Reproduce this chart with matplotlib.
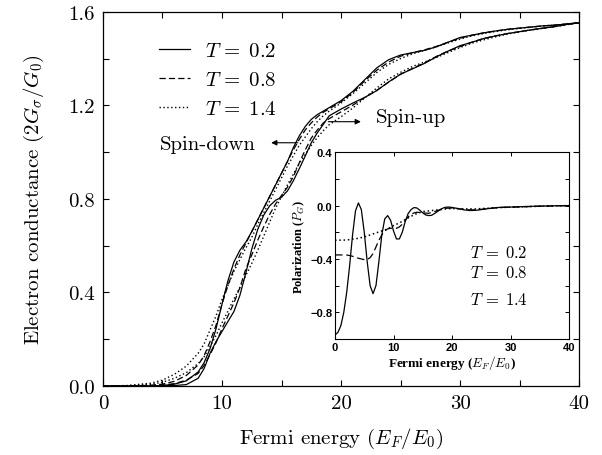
import matplotlib
matplotlib.use('Agg')
import matplotlib.pyplot as plt

plt.rcParams['font.family'] = 'serif'
plt.rcParams['font.serif'] = ['cmr10', 'DejaVu Serif']
plt.rcParams['mathtext.fontset'] = 'cm'
plt.rcParams['axes.unicode_minus'] = False

# Main panel: conductance vs Fermi energy
energy = [0, 2, 4, 5, 6, 7, 8, 8.5, 9, 9.5, 10, 10.5, 11, 11.5, 12, 12.5, 13, 13.5, 14, 14.5,
          15, 15.5, 16, 16.5, 17, 17.5, 18, 18.5, 19, 20, 21, 22, 23, 24, 25, 26, 27, 28, 29, 30,
          31, 32, 33, 34, 35, 36, 37, 38, 39, 40]

down_t02 = [0, 0, 0, 0.002, 0.008, 0.022, 0.06, 0.1, 0.16, 0.245, 0.35, 0.45, 0.53, 0.58, 0.615, 0.66,
            0.71, 0.76, 0.81, 0.86, 0.91, 0.96, 1.02, 1.07, 1.11, 1.14, 1.16, 1.175, 1.19, 1.22, 1.26,
            1.31, 1.36, 1.395, 1.415, 1.425, 1.435, 1.45, 1.47, 1.49, 1.50, 1.51, 1.518, 1.525, 1.53,
            1.535, 1.54, 1.543, 1.548, 1.553]
down_t08 = [0, 0, 0.003, 0.008, 0.02, 0.045, 0.09, 0.13, 0.19, 0.26, 0.35, 0.43, 0.5, 0.56, 0.61, 0.66,
            0.71, 0.76, 0.81, 0.86, 0.91, 0.96, 1.01, 1.055, 1.095, 1.125, 1.15, 1.17, 1.185, 1.215, 1.255,
            1.305, 1.35, 1.385, 1.41, 1.425, 1.437, 1.452, 1.47, 1.487, 1.50, 1.51, 1.518, 1.525, 1.53,
            1.535, 1.54, 1.543, 1.548, 1.553]
down_t14 = [0, 0.002, 0.012, 0.025, 0.05, 0.085, 0.14, 0.18, 0.24, 0.3, 0.37, 0.43, 0.49, 0.54, 0.59, 0.635,
            0.69, 0.74, 0.79, 0.84, 0.89, 0.94, 0.985, 1.03, 1.065, 1.1, 1.13, 1.155, 1.175, 1.21, 1.25,
            1.295, 1.34, 1.375, 1.40, 1.42, 1.435, 1.45, 1.467, 1.483, 1.497, 1.507, 1.516, 1.523, 1.529,
            1.534, 1.539, 1.543, 1.548, 1.553]

up_t02 = [0, 0, 0, 0.001, 0.002, 0.006, 0.033, 0.075, 0.14, 0.19, 0.233, 0.276, 0.318, 0.387, 0.483, 0.585,
          0.669, 0.73, 0.77, 0.794, 0.807, 0.834, 0.878, 0.93, 0.984, 1.04, 1.082, 1.118, 1.155, 1.184, 1.21,
          1.234, 1.263, 1.30, 1.333, 1.356, 1.379, 1.407, 1.432, 1.455, 1.47, 1.486, 1.497, 1.507, 1.515,
          1.523, 1.53, 1.537, 1.546, 1.553]
up_t08 = [0, 0, 0.002, 0.004, 0.01, 0.025, 0.054, 0.088, 0.135, 0.185, 0.245, 0.3, 0.355, 0.42, 0.5, 0.56,
          0.623, 0.68, 0.733, 0.778, 0.815, 0.85, 0.896, 0.955, 1.01, 1.06, 1.094, 1.124, 1.143, 1.172, 1.201,
          1.234, 1.264, 1.299, 1.333, 1.358, 1.381, 1.409, 1.432, 1.451, 1.47, 1.486, 1.497, 1.507, 1.515,
          1.523, 1.53, 1.537, 1.546, 1.553]
up_t14 = [0, 0.001, 0.007, 0.016, 0.033, 0.057, 0.096, 0.125, 0.17, 0.216, 0.27, 0.32, 0.372, 0.421, 0.472, 0.524,
          0.58, 0.64, 0.70, 0.76, 0.81, 0.86, 0.906, 0.953, 0.99, 1.029, 1.062, 1.091, 1.117, 1.151, 1.189,
          1.232, 1.274, 1.313, 1.341, 1.366, 1.385, 1.404, 1.426, 1.447, 1.466, 1.48, 1.493, 1.505, 1.514,
          1.522, 1.53, 1.537, 1.545, 1.553]

# Inset: polarization
e_solid = [0, 0.5, 1, 1.5, 2, 2.5, 3, 3.5, 4, 4.5, 5, 5.5, 6, 6.5, 7, 7.5, 8, 8.5, 9, 9.5, 10, 10.5,
           11, 11.5, 12, 12.5, 13, 13.5, 14, 14.5, 15, 15.5, 16, 16.5, 17, 17.5, 18, 18.5, 19, 19.5,
           20, 21, 22, 23, 24, 25, 26, 27, 28, 29, 30, 32, 34, 36, 38, 40]
pol_t02 = [-0.97, -0.95, -0.9, -0.8, -0.65, -0.45, -0.22, -0.04, 0.02, -0.03, -0.2, -0.42, -0.6, -0.66,
           -0.6, -0.42, -0.22, -0.1, -0.075, -0.11, -0.19, -0.25, -0.25, -0.2, -0.12, -0.06, -0.03, -0.015,
           -0.018, -0.035, -0.055, -0.07, -0.075, -0.073, -0.06, -0.045, -0.03, -0.018, -0.012, -0.011,
           -0.014, -0.022, -0.032, -0.037, -0.036, -0.03, -0.024, -0.018, -0.014, -0.012, -0.011, -0.008,
           -0.005, -0.003, -0.001, 0.0]
e_dash = [0, 1, 2, 3, 4, 5, 5.5, 6, 6.5, 7, 7.5, 8, 8.5, 9, 9.5, 10, 10.5, 11, 11.5, 12, 12.5, 13, 13.5,
          14, 15, 16, 17, 18, 19, 20, 22, 23, 24, 26, 28, 30, 35, 40]
pol_t08 = [-0.37, -0.37, -0.37, -0.38, -0.395, -0.405, -0.405, -0.39, -0.36, -0.31, -0.26, -0.22, -0.19,
           -0.175, -0.17, -0.17, -0.17, -0.16, -0.14, -0.11, -0.085, -0.065, -0.055, -0.05, -0.055, -0.058,
           -0.045, -0.03, -0.02, -0.018, -0.028, -0.032, -0.032, -0.024, -0.015, -0.012, -0.005, 0.0]
e_dot = [0, 2, 4, 5, 6, 7, 8, 9, 10, 11, 12, 13, 14, 15, 16, 17, 18, 19, 20, 22, 24, 26, 28, 30, 35, 40]
pol_t14 = [-0.26, -0.258, -0.245, -0.235, -0.22, -0.205, -0.19, -0.175, -0.15, -0.13, -0.105, -0.08, -0.06,
           -0.045, -0.04, -0.035, -0.03, -0.025, -0.022, -0.025, -0.025, -0.02, -0.015, -0.012, -0.005, 0.0]

labels = ['$T\\,=\\;0.2$', '$T\\,=\\;0.8$', '$T\\,=\\;1.4$']
dash_style = (0, (5, 2.5))
dot_style = (0, (1, 1.8))

fig = plt.figure(figsize=(6.02, 4.56), dpi=100)
ax = fig.add_axes([0.171, 0.1513, 0.791, 0.8207])

ax.plot(energy, down_t02, color='k', lw=0.9, label=labels[0])
ax.plot(energy, down_t08, color='k', lw=0.9, ls=dash_style, label=labels[1])
ax.plot(energy, down_t14, color='k', lw=1.0, ls=dot_style, label=labels[2])
ax.plot(energy, up_t02, color='k', lw=0.9)
ax.plot(energy, up_t08, color='k', lw=0.9, ls=dash_style)
ax.plot(energy, up_t14, color='k', lw=1.0, ls=dot_style)

ax.set_xlim(0, 40)
ax.set_ylim(0, 1.6)
ax.set_xticks(range(0, 41, 5))
ax.set_xticklabels(['0', '', '10', '', '20', '', '30', '', '40'])
yt = [0, 0.2, 0.4, 0.6, 0.8, 1.0, 1.2, 1.4, 1.6]
ax.set_yticks(yt)
ax.set_yticklabels(['0.0', '', '0.4', '', '0.8', '', '1.2', '', '1.6'])
ax.tick_params(direction='in', top=True, right=True, length=4, width=0.8, labelsize=15, pad=6)
for s in ax.spines.values():
    s.set_linewidth(0.9)
ax.set_xlabel('Fermi energy ($E_F/E_0$)', fontsize=15, labelpad=10)
ax.set_ylabel('Electron conductance ($2G_\\sigma/G_0$)', fontsize=15, labelpad=16)

ax.legend(loc='upper left', bbox_to_anchor=(0.078, 0.97), frameon=False, fontsize=15,
          handlelength=1.5, handletextpad=0.7, labelspacing=0.5)

ax.annotate('', xy=(13.9, 1.04), xytext=(16.6, 1.04),
            arrowprops=dict(arrowstyle='-|>', color='k', lw=0.8, mutation_scale=8))
ax.text(4.8, 1.035, 'Spin-down', fontsize=15, va='center', ha='left')
ax.annotate('', xy=(21.9, 1.13), xytext=(18.7, 1.13),
            arrowprops=dict(arrowstyle='-|>', color='k', lw=0.8, mutation_scale=8))
ax.text(22.9, 1.15, 'Spin-up', fontsize=15, va='center', ha='left')

# inset
ins = fig.add_axes([0.5565, 0.2544, 0.3887, 0.4096])
ins.plot(e_solid, pol_t02, color='k', lw=0.9)
ins.plot(e_dash, pol_t08, color='k', lw=0.9, ls=(0, (6, 3)))
ins.plot(e_dot, pol_t14, color='k', lw=1.1, ls=(0, (1, 1.8)))
ins.set_xlim(0, 40)
ins.set_ylim(-1.0, 0.4)
ins.set_xticks([0, 10, 20, 30, 40])
ins.set_xticklabels(['0', '10', '20', '30', '40'])
ins.set_yticks([-1.0, -0.8, -0.6, -0.4, -0.2, 0.0, 0.2, 0.4])
ins.set_yticklabels(['', '\u22120.8', '', '\u22120.4', '', '0.0', '', '0.4'])
ins.tick_params(direction='in', top=True, right=True, length=3, width=0.7, labelsize=8, pad=2)
for lab in ins.get_xticklabels() + ins.get_yticklabels():
    lab.set_fontfamily('Liberation Sans')
    lab.set_fontweight('bold')
for s in ins.spines.values():
    s.set_linewidth(0.8)
ins.set_xlabel('Fermi energy ($E_F/E_0$)', fontsize=9.5, fontfamily='Liberation Serif',
               fontweight='bold', labelpad=1)
ins.set_ylabel('Polarization ($P_G$)', fontsize=9, fontfamily='Liberation Serif',
               fontweight='bold', labelpad=2)
ins.text(23, -0.35, labels[0], fontsize=12, va='center')
ins.text(23, -0.5, labels[1], fontsize=12, va='center')
ins.text(23, -0.7, labels[2], fontsize=12, va='center')

fig.savefig('out.png', dpi=100)
